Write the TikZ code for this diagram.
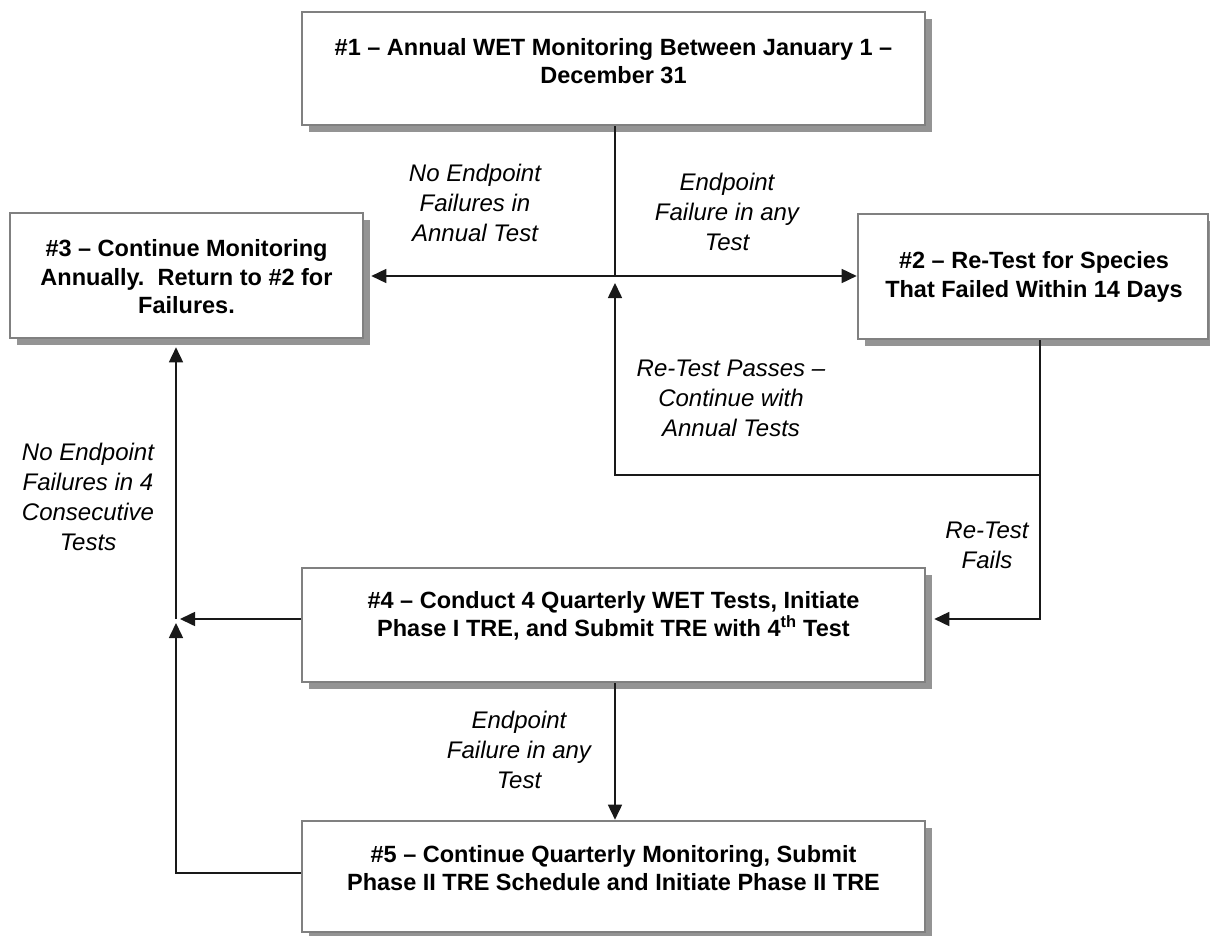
\documentclass[tikz,border=0pt]{standalone}
\usepackage{fontspec}
\setmainfont{Liberation Sans}
\usetikzlibrary{arrows.meta,shadows}
\begin{document}
\begin{tikzpicture}[x=1pt,y=-1pt,
  box/.style={draw=black!50, line width=2.6pt, fill=white, rectangle, inner sep=0pt,
    drop shadow={shadow xshift=7pt, shadow yshift=-7pt, fill=black!42, opacity=1}},
  boxtext/.style={align=center, inner sep=0pt, font=\bfseries\fontsize{23.5}{28.5}\selectfont},
  lab/.style={align=center, inner sep=0pt, font=\itshape\fontsize{24}{30}\selectfont},
  conn/.style={draw=black!90, line width=1.6pt},
  arr/.style={conn, -{Triangle[length=15pt,width=14pt]}}
]
\useasboundingbox (0,0) rectangle (1210,936);
% boxes
\node[box, minimum width=623pt, minimum height=113pt] (b1) at (613.5,68.5) {};
\node[box, minimum width=353pt, minimum height=125pt] (b3) at (186.5,275.5) {};
\node[box, minimum width=350pt, minimum height=125pt] (b2) at (1033,276.5) {};
\node[box, minimum width=623pt, minimum height=114pt] (b4) at (613.5,625) {};
\node[box, minimum width=623pt, minimum height=111pt] (b5) at (613.5,876.5) {};
% box texts
\node[boxtext] (t1) at (613.5,61) {\#1 -- Annual WET Monitoring Between January 1 --\\December 31};
\node[boxtext] (t3) at (186.5,277) {\#3 -- Continue Monitoring\\Annually.\ \ Return to \#2 for\\Failures.};
\node[boxtext] (t2) at (1034,277) {\#2 -- Re-Test for Species\\That Failed Within 14 Days};
\node[boxtext] (t4) at (613.5,616) {\#4 -- Conduct 4 Quarterly WET Tests, Initiate\\Phase I TRE, and Submit TRE with 4\textsuperscript{th} Test};
\node[boxtext] (t5) at (613.5,868) {\#5 -- Continue Quarterly Monitoring, Submit\\Phase II TRE Schedule and Initiate Phase II TRE};
% labels
\node[lab] (l1) at (475,203) {No Endpoint\\Failures in\\Annual Test};
\node[lab] (l2) at (727,212) {Endpoint\\Failure in any\\Test};
\node[lab] (l3) at (731,398) {Re-Test Passes --\\Continue with\\Annual Tests};
\node[lab] (l4) at (987,545) {Re-Test\\Fails};
\node[lab] (l5) at (88,497) {No Endpoint\\Failures in 4\\Consecutive\\Tests};
\node[lab] (l6) at (519,750) {Endpoint\\Failure in any\\Test};
% coordinates
\coordinate (j1) at (615,276);
\coordinate (j1b) at (615,283);
\coordinate (c2) at (1040,475);
\coordinate (c4) at (1040,619);
\coordinate (j2) at (176,619);
\coordinate (j2a) at (180,619);
\coordinate (j2b) at (176,623);
\coordinate (c5) at (176,873);
% connectors
\draw[conn] (b1.south -| j1) -- (j1);
\draw[arr, shorten >=7pt] (j1) -- (b3.east |- j1);
\draw[arr] (j1) -- (b2.west |- j1);
\draw[arr] (b2.south -| c2) -- (c2) -- (c2 -| j1) -- (j1b);
\draw[arr, shorten >=8pt] (c2) -- (c4) -- (c4 -| b4.east);
\draw[arr] (j2 -| b4.west) -- (j2a);
\draw[arr] (c5 -| b5.west) -- (c5) -- (j2b);
\draw[arr, shorten >=8pt] (j2) -- (b3.south -| j2);
\draw[arr] (b4.south -| j1) -- (b5.north -| j1);
\end{tikzpicture}
\end{document}
